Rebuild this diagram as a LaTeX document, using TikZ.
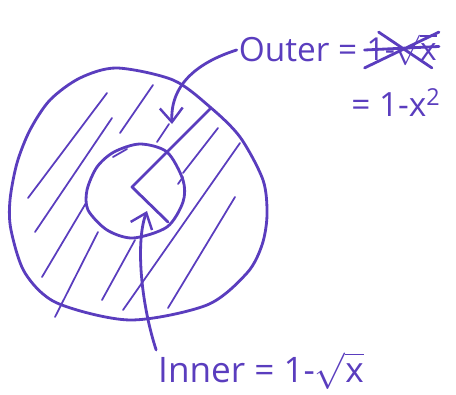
\documentclass[tikz,border=0pt]{standalone}
\usepackage{fontspec}
\setmainfont{Open Sans}
\usepackage{tikz}
\usetikzlibrary{arrows.meta,positioning}
\definecolor{pen}{HTML}{5A3DBE}

\begin{document}
\begin{tikzpicture}[x=0.02cm,y=-0.02cm,font=\fontsize{17}{20}\selectfont,
    ink/.style={draw=pen,line width=1.6pt,line cap=round,line join=round},
    hatch/.style={draw=pen,line width=1pt,line cap=round},
    lbl/.style={text=pen,inner sep=1pt},
    arr/.style={ink,-{Straight Barb[length=8pt,width=13pt,line width=1.4pt]}}]
  \useasboundingbox (0,0) rectangle (456,395);
  % outer and inner circle
  \draw[ink] plot[smooth cycle] coordinates {(117,68) (173,80) (210,107) (240,137)
    (263,180) (267,215) (262,245) (247,273) (207,305) (130,320) (57,303)
    (25,273) (11,230) (10,200) (17,163) (30,130) (50,100) (80,78)};
  \draw[ink] plot[smooth cycle] coordinates {(140,144) (167,152) (183,180)
    (183,202) (167,227) (133,238) (107,230) (88,210) (87,190) (97,167) (114,152)};
  % hatching
  \draw[hatch] (28,198) -- (107,93)  (35,232) -- (112,118)  (120,133) -- (153,85)
    (42,277) -- (86,203)  (55,317) -- (98,232)  (102,300) -- (135,240)
    (123,310) -- (240,143)  (168,308) -- (235,197)  (183,173) -- (218,128)
    (157,142) -- (169,124)  (178,184) -- (183,177)  (113,157) -- (127,149);
  % radii
  \coordinate (c) at (132,187);
  \draw[ink] (210,109) -- (c) -- (168,222);
  % labels
  \node[lbl,font=\fontsize{19}{22}\selectfont] (outer) at (298,50) {Outer =};
  \node[lbl,right=3pt of outer,font=\fontsize{18}{22}\selectfont] (scrib) {1-$\sqrt{\mbox{x}}$};
  \draw[ink] (scrib.south west) -- (scrib.north east)
    (scrib.west) -- ([yshift=2pt]scrib.east)
    ([xshift=8pt]scrib.north west) -- ([xshift=-4pt]scrib.south east);
  \node[lbl,font=\fontsize{19}{22}\selectfont] (outerb) at (396,103) {= 1-x\textsuperscript{2}};
  \node[lbl,font=\fontsize{20}{24}\selectfont] (inner) at (261,371) {Inner = 1-$\sqrt{\mbox{x}}$};
  % arrows
  \coordinate (tipo) at (172,124);
  \coordinate (tipi) at (147,211);
  \draw[arr] (outer.west) .. controls (205,60) and (170,80) .. (tipo);
  \draw[arr] (inner.north west) .. controls (140,300) and (136,240) .. (tipi);
\end{tikzpicture}
\end{document}
